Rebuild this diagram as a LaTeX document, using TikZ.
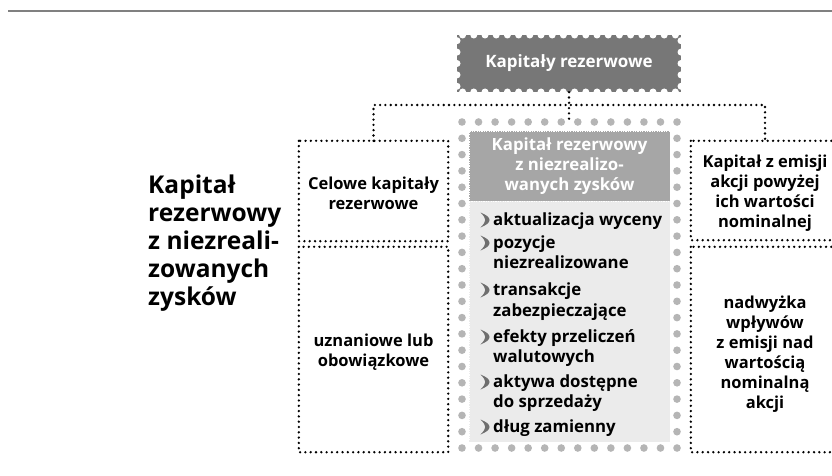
\documentclass[tikz,border=0pt]{standalone}
\usepackage{fontspec}
\setmainfont{Open Sans}
\usetikzlibrary{calc}

\definecolor{rulegray}{HTML}{808080}
\definecolor{stampgray}{HTML}{777777}
\definecolor{headgray}{HTML}{A6A6A6}
\definecolor{bodygray}{HTML}{EBEBEB}
\definecolor{dotgray}{HTML}{B5B5B5}
\definecolor{chevgray}{HTML}{6E6E6E}

\tikzset{
  link/.style={draw=black, line width=2.6pt, dash pattern=on 0pt off 5.3pt, line cap=round},
  boxtext/.style={align=center, font=\bfseries\fontsize{16.5}{20}\selectfont, inner sep=0pt},
  itemtext/.style={anchor=base west, inner sep=0pt, font=\bfseries\fontsize{16.8}{20}\selectfont},
  chev/.pic={
    \fill[chevgray] (-2.5,-7.5) .. controls (3.5,-5) and (6.5,-2.8) .. (6.5,0)
      .. controls (6.5,2.8) and (3.5,5) .. (-2.5,7.5)
      .. controls (1,4) and (2.2,1.8) .. (2.2,0)
      .. controls (2.2,-1.8) and (1,-4) .. (-2.5,-7.5) -- cycle;
  }
}

\begin{document}
\begin{tikzpicture}[x=1pt, y=-1pt]
\useasboundingbox[fill=white] (0,0) rectangle (832,476);
\begin{scope}
\clip (0,0) rectangle (832,476);

% rule across the top
\draw[rulegray, line width=2.2pt] (8,11) -- (832,11);

% side title
\node[anchor=west, align=left, inner sep=0pt,
      font=\bfseries\fontsize{24.5}{28}\selectfont] (title) at (148,243)
  {Kapitał\\rezerwowy\\z niezreali-\\zowanych\\zysków};

% stamp-shaped root node
\node[fill=stampgray, minimum width=224pt, minimum height=57pt, inner sep=0pt,
      text=white, font=\bfseries\fontsize{17}{20}\selectfont] (top) at (569,63.5)
  {Kapitały rezerwowe};
\foreach \k in {0,...,19} {
  \fill[white] ({462.6+\k*11.2},35) circle (3.5pt);
  \fill[white] ({462.6+\k*11.2},92) circle (3.5pt);
}
\foreach \k in {0,...,4} {
  \fill[white] (457,{40.7+\k*11.4}) circle (3.5pt);
  \fill[white] (681,{40.7+\k*11.4}) circle (3.5pt);
}

% left column
\node[minimum width=149pt, minimum height=100pt, inner sep=0pt] (cel) at (373.5,191) {};
\node[boxtext] at (373.5,193.5) {Celowe kapitały\\rezerwowe};
\draw[link] (cel.north west) rectangle (cel.south east);

\node[minimum width=149pt, minimum height=205pt, inner sep=0pt] (uzn) at (373.5,349.5) {};
\node[boxtext] at (373.5,352.5) {uznaniowe lub\\obowiązkowe};
\draw[link] (uzn.north west) rectangle (uzn.south east);

% right column, open towards the page edge
\node[minimum width=148pt, minimum height=99pt, inner sep=0pt] (emi) at (765,190.5) {};
\node[boxtext] at (765,193) {Kapitał z emisji\\akcji powyżej\\ich wartości\\nominalnej};
\draw[link] (emi.north west) rectangle (emi.south east);

\node[minimum width=148pt, minimum height=205pt, inner sep=0pt] (nad) at (765,349.5) {};
\node[boxtext] at (765,354) {nadwyżka\\wpływów\\z emisji nad\\wartością\\nominalną\\akcji};
\draw[link] (nad.north west) rectangle (nad.south east);

% middle column: dotted frame, header and list
\node[minimum width=215pt, minimum height=326pt, inner sep=0pt] (mid) at (569.5,285) {};
\foreach \k in {0,...,13} {
  \fill[dotgray] ({462+\k*16.54},122) circle (3.8pt);
  \fill[dotgray] ({462+\k*16.54},448) circle (3.8pt);
}
\foreach \k in {1,...,19} {
  \fill[dotgray] (462,{122+\k*16.3}) circle (3.8pt);
  \fill[dotgray] (677,{122+\k*16.3}) circle (3.8pt);
}

\node[fill=bodygray, draw=white, line width=0.8pt, dash pattern=on 1.2pt off 1.2pt,
      minimum width=201pt, minimum height=242pt, inner sep=0pt] (body) at (569.5,321) {};
\node[fill=headgray, draw=white, line width=0.8pt, dash pattern=on 1.2pt off 1.2pt,
      minimum width=201pt, minimum height=70pt, inner sep=0pt, align=center,
      text=white, font=\bfseries\fontsize{16.8}{20}\selectfont] (head) at (569.5,166)
  {Kapitał rezerwowy\\z niezrealizo-\\wanych zysków};

\foreach \y in {220,243,290,337,382,427} { \pic at (483,\y) {chev}; }
\node[itemtext] (i1) at (493,225.5) {aktualizacja wyceny};
\node[itemtext] (i2a) at (493,248.5) {pozycje};
\node[itemtext] (i2b) at (493,268.5) {niezrealizowane};
\node[itemtext] (i3a) at (493,295.5) {transakcje};
\node[itemtext] (i3b) at (493,316.5) {zabezpieczające};
\node[itemtext] (i4a) at (493,342.5) {efekty przeliczeń};
\node[itemtext] (i4b) at (493,362.5) {walutowych};
\node[itemtext] (i5a) at (493,387.5) {aktywa dostępne};
\node[itemtext] (i5b) at (493,407.5) {do sprzedaży};
\node[itemtext] (i6) at (493,432.5) {dług zamienny};

% connectors from the root
\coordinate (hub) at (569,105);
\draw[link] (top.south) -- (top.south |- mid.north);
\draw[link] (cel.north) |- (hub) -| (emi.north);
\end{scope}
\end{tikzpicture}
\end{document}
